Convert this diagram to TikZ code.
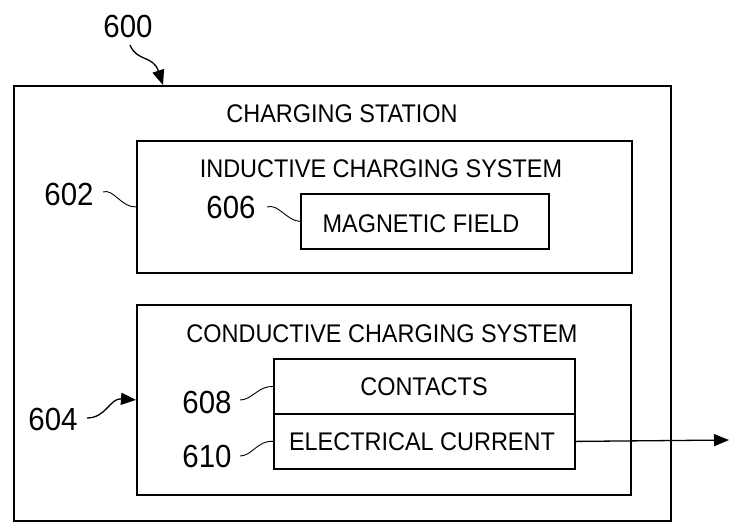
\documentclass[tikz,border=0pt]{standalone}
\usepackage{fontspec}
\setmainfont{Liberation Sans}[FakeStretch=0.92]
\usetikzlibrary{arrows.meta}
\begin{document}
\begin{tikzpicture}[x=1pt,y=-1pt,
 box/.style={draw, line width=1.8pt, inner sep=0pt, anchor=north west},
 lbl/.style={font=\fontsize{25.5}{25.5}\selectfont, inner sep=0pt, anchor=base},
 num/.style={font=\fontsize{32}{32}\selectfont, inner sep=0pt, anchor=base},
 lead/.style={line width=0.9pt},
 arr/.style={line width=1.3pt, -{Triangle[length=15pt,width=12pt]}}]
\useasboundingbox (0,0) rectangle (730,523);
% boxes
\node[box, minimum width=657pt, minimum height=435pt] (station) at (13,85) {};
\node[box, minimum width=495pt, minimum height=132pt] (ind) at (136,140) {};
\node[box, minimum width=494pt, minimum height=190pt] (cond) at (136,304) {};
\node[box, minimum width=248pt, minimum height=55pt] (mag) at (300,193) {};
\node[box, minimum width=301pt, minimum height=55pt] (contacts) at (273,358) {};
\node[box, minimum width=301pt, minimum height=55pt] (current) at (273,413) {};
% texts
\node[lbl] (tstation) at (342,122) {CHARGING STATION};
\node[lbl] (tind) at (381,177) {INDUCTIVE CHARGING SYSTEM};
\node[lbl] (tmag) at (421,232) {MAGNETIC FIELD};
\node[lbl] (tcond) at (382,342) {CONDUCTIVE CHARGING SYSTEM};
\node[lbl] (tcontacts) at (424,395) {CONTACTS};
\node[lbl] (tcurrent) at (422,450) {ELECTRICAL CURRENT};
% reference numerals
\node[num] (n600) at (128,37) {600};
\node[num] (n602) at (69,205) {602};
\node[num] (n606) at (231,218) {606};
\node[num] (n604) at (53,430) {604};
\node[num] (n608) at (207,413) {608};
\node[num] (n610) at (207,467) {610};
% leader coordinates
\coordinate (s600) at (130,45);
\coordinate (e600) at (163,85);
\coordinate (s602) at (103,192);
\coordinate (s606) at (267,207);
\coordinate (s604) at (87,418);
\coordinate (s608) at (240,400);
\coordinate (s610) at (240,456);
\coordinate (out) at (729,440);
% leaders
\draw[arr] (s600) .. controls (137,62) and (153,55) .. (e600);
\draw[lead] (s602) .. controls (113,188) and (122,208) .. (ind.west);
\draw[lead] (s606) .. controls (278,203) and (287,221) .. (mag.west);
\draw[arr] (s604) .. controls (106,418) and (110,398) .. (cond.west);
\draw[lead] (s608) .. controls (252,400) and (258,386) .. (contacts.west);
\draw[lead] (s610) .. controls (252,456) and (258,440) .. (current.west);
\draw[arr] (current.east) -- (out);
\end{tikzpicture}
\end{document}
